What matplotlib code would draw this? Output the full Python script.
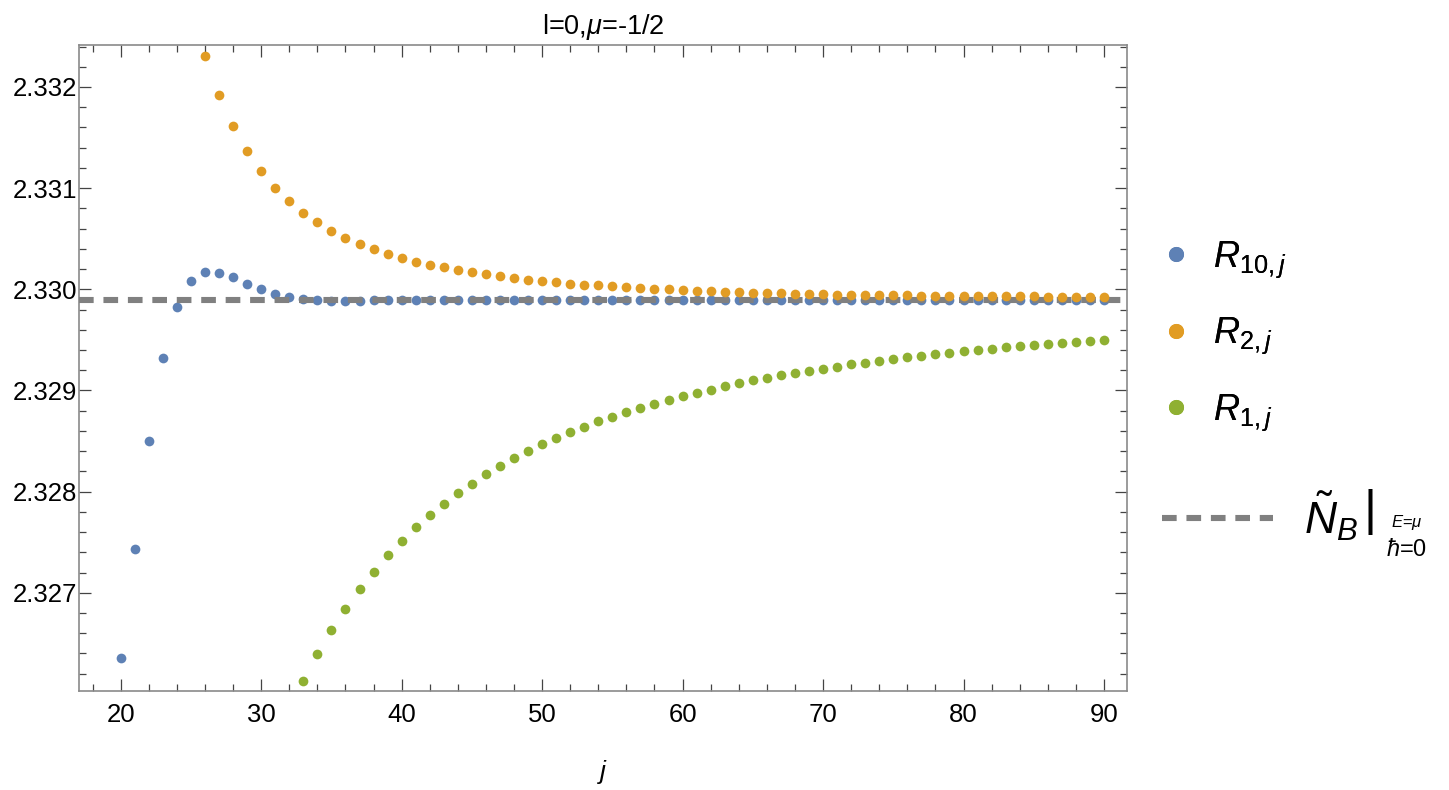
import numpy as np
import matplotlib.pyplot as plt
from matplotlib.ticker import MultipleLocator, FormatStrFormatter

plt.rcParams['font.family'] = ['Liberation Sans', 'DejaVu Sans']
plt.rcParams['mathtext.fontset'] = 'custom'
plt.rcParams['mathtext.rm'] = 'Liberation Sans'
plt.rcParams['mathtext.it'] = 'Liberation Sans:italic'
plt.rcParams['mathtext.bf'] = 'Liberation Sans:bold'

# --- data ---
j_r10 = np.arange(20, 91)
r10 = [2.326354, 2.327431, 2.328504, 2.329318, 2.329828, 2.330085, 2.330174, 2.330164, 2.330119, 2.330052,
       2.330000, 2.329954, 2.329927, 2.329904, 2.329894, 2.329888, 2.329887, 2.329888, 2.329890, 2.329891,
       2.329892, 2.329893, 2.329893, 2.329893, 2.329893, 2.329893, 2.329893, 2.329893, 2.329893, 2.329893,
       2.329893, 2.329893, 2.329893, 2.329893, 2.329893, 2.329893, 2.329893, 2.329893, 2.329893, 2.329893,
       2.329893, 2.329893, 2.329893, 2.329893, 2.329893, 2.329893, 2.329893, 2.329893, 2.329893, 2.329893,
       2.329893, 2.329893, 2.329893, 2.329893, 2.329893, 2.329893, 2.329893, 2.329893, 2.329893, 2.329893,
       2.329893, 2.329893, 2.329893, 2.329893, 2.329893, 2.329893, 2.329893, 2.329893, 2.329893, 2.329893,
       2.329893]

j_r2 = np.arange(26, 91)
r2 = [2.332308, 2.331920, 2.331614, 2.331367, 2.331169, 2.331004, 2.330870, 2.330757, 2.330662, 2.330579,
      2.330510, 2.330448, 2.330395, 2.330349, 2.330309, 2.330273, 2.330243, 2.330217, 2.330194, 2.330168,
      2.330148, 2.330131, 2.330112, 2.330095, 2.330080, 2.330068, 2.330057, 2.330046, 2.330038, 2.330030,
      2.330022, 2.330014, 2.330007, 2.330000, 2.329994, 2.329988, 2.329983, 2.329977, 2.329971, 2.329967,
      2.329963, 2.329959, 2.329956, 2.329953, 2.329950, 2.329948, 2.329946, 2.329944, 2.329942, 2.329940,
      2.329939, 2.329937, 2.329936, 2.329935, 2.329934, 2.329933, 2.329932, 2.329931, 2.329930, 2.329929,
      2.329928, 2.329927, 2.329927, 2.329926, 2.329926]

j_r1 = np.arange(33, 91)
r1 = [2.326126, 2.326393, 2.326630, 2.326841, 2.327036, 2.327210, 2.327372, 2.327513, 2.327651, 2.327770,
      2.327881, 2.327987, 2.328079, 2.328172, 2.328254, 2.328330, 2.328402, 2.328468, 2.328531, 2.328590,
      2.328642, 2.328696, 2.328741, 2.328785, 2.328827, 2.328867, 2.328906, 2.328943, 2.328978, 2.329008,
      2.329041, 2.329071, 2.329101, 2.329124, 2.329150, 2.329173, 2.329196, 2.329215, 2.329235, 2.329257,
      2.329275, 2.329294, 2.329311, 2.329328, 2.329344, 2.329358, 2.329373, 2.329387, 2.329400, 2.329413,
      2.329426, 2.329438, 2.329449, 2.329460, 2.329470, 2.329480, 2.329490, 2.329499]

nb_value = 2.329894

labels = [r'$R_{10,j}$', r'$R_{2,j}$', r'$R_{1,j}$']
colors = ['#5E81B5', '#E19C24', '#8FB032']

# --- figure ---
fig = plt.figure(figsize=(14.49, 7.90), dpi=100)
ax = fig.add_axes([79 / 1449, 1 - 690.7 / 790, 1048 / 1449, 645.4 / 790])

ms = 7.0
h10, = ax.plot(j_r10, r10, 'o', color=colors[0], ms=ms, mew=0, zorder=2)
hline = ax.axhline(nb_value, color='#808080', lw=4.4, ls=(0, (2.4, 1.6)), zorder=3)
h2, = ax.plot(j_r2, r2, 'o', color=colors[1], ms=ms, mew=0, zorder=4)
h1, = ax.plot(j_r1, r1, 'o', color=colors[2], ms=ms, mew=0, zorder=4)

ax.set_xlim(17.03, 91.64)
ax.set_ylim(2.326032, 2.332412)

ax.xaxis.set_major_locator(MultipleLocator(10))
ax.xaxis.set_minor_locator(MultipleLocator(2))
ax.yaxis.set_major_locator(MultipleLocator(0.001))
ax.yaxis.set_minor_locator(MultipleLocator(0.0002))
ax.yaxis.set_major_formatter(FormatStrFormatter('%.3f'))

ax.tick_params(which='both', direction='in', top=True, right=True, color='#444444', width=0.9,
               labelsize=18.5)
ax.tick_params(axis='x', which='both', pad=9)
ax.tick_params(axis='y', which='both', pad=1)
ax.tick_params(which='major', length=8.8)
ax.tick_params(which='minor', length=5)
for s in ax.spines.values():
    s.set_color('#8a8a8a')
    s.set_linewidth(1.2)

ax.set_title(r'l=0,$\mu$=-1/2', fontsize=19.5, pad=8)
ax.set_xlabel(r'$j$', fontsize=19, labelpad=22)

leg1 = fig.legend(handles=[h10, h2, h1], labels=labels, loc='center left',
                  bbox_to_anchor=(1162 / 1449, 1 - 336 / 790), frameon=False, fontsize=26,
                  handlelength=0.8, handletextpad=0.6, labelspacing=1.0, markerscale=1.55,
                  borderpad=0, borderaxespad=0)
leg2 = fig.legend(handles=[hline], labels=[r'$\tilde{N}_B$'], loc='center left',
                  bbox_to_anchor=(1162 / 1449, 1 - 516 / 790), frameon=False, fontsize=32,
                  handlelength=2.5, handletextpad=0.7, borderpad=0, borderaxespad=0)
fig.add_artist(leg1)

fig.text(1370 / 1449, 1 - 512 / 790, '|', fontsize=36, ha='center', va='center')
fig.text(1407 / 1449, 1 - 523 / 790, r'$E$=$\mu$', fontsize=12, ha='center', va='center')
fig.text(1407 / 1449, 1 - 550 / 790, r'$\hbar$=0', fontsize=17, ha='center', va='center')

fig.savefig('out.png', dpi=100)
